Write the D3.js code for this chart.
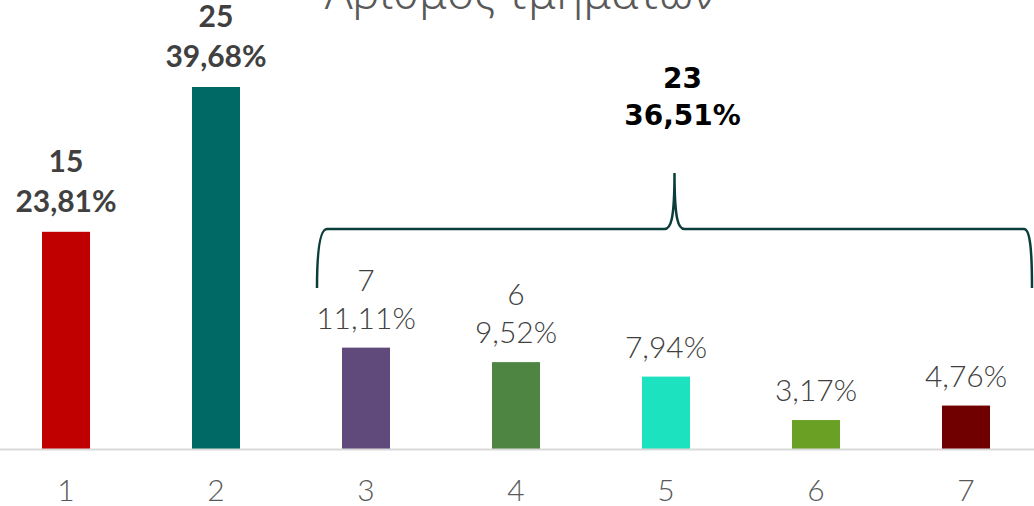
<!DOCTYPE html>
<html><head><meta charset="utf-8">
<script src="https://cdn.jsdelivr.net/npm/d3@7"></script>
<style>body{margin:0;background:#fff;} svg{display:block;}</style>
</head><body>
<svg id="c" width="1034" height="506"></svg>
<script>
const categories = ["1","2","3","4","5","6","7"];
const counts = [15, 25, 7, 6, 5, 2, 3];
const percentLabels = ["23,81%","39,68%","11,11%","9,52%","7,94%","3,17%","4,76%"];
const showCount = [true, true, true, true, false, false, false];
const boldLabel = [true, true, false, false, false, false, false];
const colors = ["#C00000","#006966","#604A7B","#4E8542","#1DE2BF","#6AA125","#700000"];
const title = "Αριθμός τμημάτων";
const groupCount = 23;
const groupPercent = "36,51%";
const groupFrom = "3", groupTo = "7";

const svg = d3.select("#c");
const x = d3.scaleBand().domain(categories).range([-9, 1041]).paddingInner(0.68).paddingOuter(0.34);
const y = d3.scaleLinear().domain([0, 25]).range([449, 87]);

svg.append("text").attr("x", 520).attr("y", 9).attr("text-anchor","middle")
  .attr("font-family","'Noto Sans', 'DejaVu Sans', sans-serif").attr("font-size", 46).attr("font-weight",300)
  .attr("fill","#595959").text(title);

svg.selectAll("rect.bar").data(counts).join("rect").attr("class","bar")
  .attr("x",(d,i)=>x(categories[i])).attr("width",x.bandwidth())
  .attr("y",d=>y(d)).attr("height",d=>y(0)-y(d))
  .attr("fill",(d,i)=>colors[i]);

// axis
const axis = svg.append("g").attr("transform",`translate(0,${y(0)})`)
  .call(d3.axisBottom(x).tickSize(0).tickPadding(0));
axis.select(".domain").attr("d","M0,0.5H1034").attr("stroke","#d9d9d9").attr("stroke-width",2);
axis.selectAll(".tick text").attr("font-family","Lato, 'Noto Sans', sans-serif").attr("font-size",30)
  .attr("font-weight",300).attr("fill","#595959").attr("dy",null).attr("y",52);

// labels
counts.forEach((v,i)=>{
  const cx = x(categories[i]) + x.bandwidth()/2;
  const base = y(v) - (boldLabel[i] ? 20 : 19);
  const g = svg.append("text").attr("text-anchor","middle")
    .attr("font-family","Lato, 'Noto Sans', sans-serif")
    .attr("font-size",30).attr("font-weight", boldLabel[i] ? "bold" : 300)
    .attr("fill","#404040");
  g.append("tspan").attr("x",cx).attr("y",base).text(percentLabels[i]);
  if (showCount[i]) g.append("tspan").attr("x",cx).attr("y",base - (boldLabel[i]?40:38)).text(v);
});

// brace
const L = x(groupFrom) - 25, R = x(groupTo) + x.bandwidth() + 42;
const M = (L + R) / 2;
const yl = 229, yt = 173, ye = 288;
const p = d3.path();
p.moveTo(L, ye);
p.bezierCurveTo(L, 250, L+3, yl, L+10, yl);
p.lineTo(M-10, yl);
p.bezierCurveTo(M-4, yl, M, yl-8, M, yt);
p.bezierCurveTo(M, yl-8, M+4, yl, M+10, yl);
p.lineTo(R-8, yl);
p.bezierCurveTo(R-2, yl, R, 250, R, ye);
svg.append("path").attr("d", p.toString()).attr("fill","none").attr("stroke","#0B3D3A").attr("stroke-width",2.5);

const bt = svg.append("text").attr("text-anchor","middle")
  .attr("font-family","'DejaVu Sans', sans-serif").attr("font-weight","bold").attr("font-size",28).attr("fill","#000");
bt.append("tspan").attr("x",M+8).attr("y",88).text(groupCount);
bt.append("tspan").attr("x",M+8).attr("y",125).text(groupPercent);
</script>
</body></html>
